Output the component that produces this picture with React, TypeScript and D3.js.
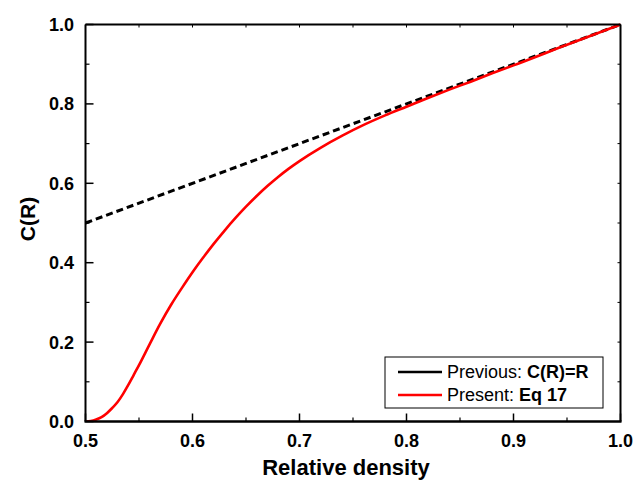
import React from "react";
import * as d3 from "d3";

const previousX = [0.5, 1.0];
const previousY = [0.5, 1.0];

const presentX = [0.5, 0.505, 0.51, 0.515, 0.52, 0.525, 0.53, 0.535, 0.54, 0.545, 0.55, 0.56, 0.57, 0.58, 0.59, 0.6, 0.61, 0.62, 0.63, 0.64, 0.65, 0.66, 0.67, 0.68, 0.69, 0.7, 0.72, 0.74, 0.76, 0.78, 0.8, 0.82, 0.84, 0.86, 0.88, 0.9, 0.95, 1.0];
const presentY = [0, 0.0012, 0.005, 0.011, 0.021, 0.034, 0.049, 0.069, 0.092, 0.117, 0.142, 0.195, 0.247, 0.294, 0.336, 0.376, 0.413, 0.448, 0.481, 0.512, 0.541, 0.568, 0.593, 0.616, 0.637, 0.656, 0.69, 0.72, 0.747, 0.771, 0.793, 0.815, 0.836, 0.856, 0.877, 0.897, 0.949, 1.0];

const xMajorTicks = [0.5, 0.6, 0.7, 0.8, 0.9, 1.0];
const xMinorTicks = [0.55, 0.65, 0.75, 0.85, 0.95];
const yMajorTicks = [0.0, 0.2, 0.4, 0.6, 0.8, 1.0];
const yMinorTicks = [0.1, 0.3, 0.5, 0.7, 0.9];

const xLabel = "Relative density";
const yLabel = "C(R)";

export default function App() {
  const W = 644, H = 484;
  const L = 85.5, R = 620.5, T = 24.5, B = 421.5;
  const x = d3.scaleLinear().domain([0.5, 1.0]).range([L, R]);
  const y = d3.scaleLinear().domain([0, 1]).range([B, T]);
  const line = d3.line<[number, number]>().x(d => x(d[0])).y(d => y(d[1])).curve(d3.curveMonotoneX);
  const prevPts: [number, number][] = previousX.map((v, i) => [v, previousY[i]]);
  const presPts: [number, number][] = presentX.map((v, i) => [v, presentY[i]]);
  const font = "'Liberation Sans', Arial, sans-serif";
  const allX = [...xMajorTicks, ...xMinorTicks];
  const allY = [...yMajorTicks, ...yMinorTicks];
  const lg = { x: 385, y: 357, w: 218, h: 51 };
  return (
    <svg width={W} height={H} style={{ position: "absolute", left: 0, top: 0, background: "#fff" }} fontFamily={font}>
      <rect width={W} height={H} fill="#fff" />
      <defs>
        <clipPath id="plot">
          <rect x={L} y={T - 2} width={R - L + 2} height={B - T + 2} />
        </clipPath>
      </defs>
      <g clipPath="url(#plot)">
        <path d={line(prevPts) || ""} fill="none" stroke="#000" strokeWidth={3} strokeDasharray="7,4" />
        <path d={line(presPts) || ""} fill="none" stroke="#ff0000" strokeWidth={2.6} />
      </g>
      {xMajorTicks.map(t => (
        <line key={"xb" + t} x1={x(t)} x2={x(t)} y1={B} y2={B - 8} stroke="#000" strokeWidth={1.5} />
      ))}
      {xMinorTicks.map(t => (
        <line key={"xbm" + t} x1={x(t)} x2={x(t)} y1={B} y2={B - 4} stroke="#000" strokeWidth={1.2} />
      ))}
      {yMajorTicks.map(t => (
        <line key={"yl" + t} x1={L} x2={L + 8} y1={y(t)} y2={y(t)} stroke="#000" strokeWidth={1.5} />
      ))}
      {yMinorTicks.map(t => (
        <line key={"ylm" + t} x1={L} x2={L + 4} y1={y(t)} y2={y(t)} stroke="#000" strokeWidth={1.2} />
      ))}
      {allX.map(t => (
        <line key={"xt" + t} x1={x(t)} x2={x(t)} y1={T} y2={T + 3} stroke="#000" strokeWidth={1} />
      ))}
      {allY.map(t => (
        <line key={"yr" + t} x1={R} x2={R - 3} y1={y(t)} y2={y(t)} stroke="#000" strokeWidth={1} />
      ))}
      <line x1={L} x2={R} y1={T} y2={T} stroke="#000" strokeWidth={2} />
      <line x1={R} x2={R} y1={T} y2={B} stroke="#000" strokeWidth={2} />
      <line x1={L} x2={L} y1={T} y2={B} stroke="#000" strokeWidth={2} />
      <line x1={L - 1} x2={R + 1} y1={B} y2={B} stroke="#000" strokeWidth={2.6} />
      {xMajorTicks.map(t => (
        <text key={"xlab" + t} x={x(t)} y={B + 25} textAnchor="middle" fontSize={18} fontWeight="bold">
          {t.toFixed(1)}
        </text>
      ))}
      {yMajorTicks.map(t => (
        <text key={"ylab" + t} x={74} y={y(t) + 6.4} textAnchor="end" fontSize={18} fontWeight="bold">
          {t.toFixed(1)}
        </text>
      ))}
      <text x={346} y={475} textAnchor="middle" fontSize={22} fontWeight="bold">{xLabel}</text>
      <text transform={`translate(35,219) rotate(-90)`} textAnchor="middle" fontSize={21} fontWeight="bold">{yLabel}</text>
      <rect x={lg.x} y={lg.y} width={lg.w} height={lg.h} fill="#fff" stroke="#000" strokeWidth={1} />
      <line x1={398} x2={442} y1={372} y2={372} stroke="#000" strokeWidth={2.5} />
      <line x1={398} x2={442} y1={395} y2={395} stroke="#ff0000" strokeWidth={2.5} />
      <text x={447} y={378} fontSize={18}>
        Previous: <tspan fontWeight="bold">C(R)=R</tspan>
      </text>
      <text x={447} y={401} fontSize={18}>
        Present: <tspan fontWeight="bold">Eq 17</tspan>
      </text>
    </svg>
  );
}
